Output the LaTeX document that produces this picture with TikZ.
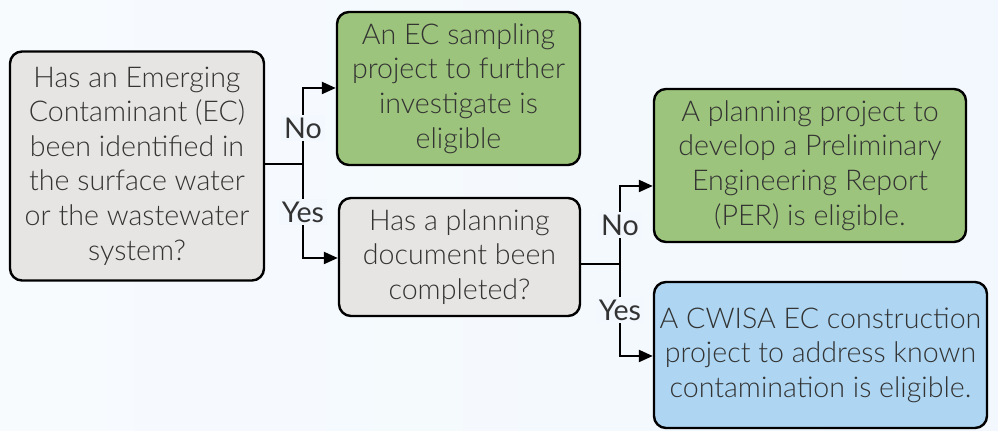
\documentclass[tikz,border=0pt]{standalone}
\usepackage{fontspec}
\setmainfont{Lato}[UprightFont=* Light]
\newfontfamily\answerfont{Lato}
\usetikzlibrary{arrows.meta}
\definecolor{bgblue}{HTML}{F2F8FD}
\definecolor{askgray}{HTML}{E7E5E3}
\definecolor{okgreen}{HTML}{9DC47C}
\definecolor{buildblue}{HTML}{AED6F2}
\definecolor{txt}{HTML}{333333}
\tikzset{
    box/.style={draw=black, line width=1.2pt, rounded corners=6pt, align=center,
        text=txt, font=\fontsize{14.3}{17.3}\selectfont, inner sep=0pt},
    question/.style={box, fill=askgray},
    outcome/.style={box, fill=okgreen},
    build/.style={box, fill=buildblue},
    link/.style={line width=1.1pt, -{Triangle[length=7pt,width=6pt]}},
    answer/.style={fill=bgblue, text=txt, inner sep=1.5pt, font=\answerfont\fontsize{14.3}{17.3}\selectfont}
}
\begin{document}
\begin{tikzpicture}[x=0.5pt,y=-0.5pt]
        \shade[left color=bgblue!60!white, right color=bgblue] (0,0) rectangle (998,431);
        \useasboundingbox (0,0) rectangle (998,431);

        \node[question, minimum width=127pt, minimum height=114.5pt] (found) at (137,166)
            {Has an Emerging\\Contaminant (EC)\\been identified in\\the surface water\\or the wastewater\\system?};
        \node[outcome, minimum width=121.5pt, minimum height=76.5pt] (sample) at (458.5,88.5)
            {An EC sampling\\project to further\\investigate is\\eligible};
        \node[question, minimum width=120.5pt, minimum height=59pt] (planned) at (459.5,257)
            {Has a planning\\document been\\completed?};
        \node[outcome, minimum width=156pt, minimum height=76.5pt] (per) at (810,165.5)
            {A planning project to\\develop a Preliminary\\Engineering Report\\(PER) is eligible.};
        \node[build, minimum width=166.5pt, minimum height=73pt] (construct) at (820.5,355)
            {A CWISA EC construction\\project to address known\\contamination is eligible.};

        % first split
        \coordinate (splitA) at (303,164);
        \draw[line width=1.1pt] (found.east |- splitA) -- (splitA);
        \draw[link] (splitA) |- (sample.west |- 0,88);
        \draw[link] (splitA) |- (planned.west |- 0,258);
        \node[answer] (noA) at (303,128) {No};
        \node[answer] (yesA) at (303,212) {Yes};

        % second split
        \coordinate (splitB) at (620,264);
        \draw[line width=1.1pt] (planned.east |- splitB) -- (splitB);
        \draw[link] (splitB) |- (per.west |- 0,186);
        \draw[link] (splitB) |- (construct.west |- 0,356);
        \node[answer] (noB) at (620,225) {No};
        \node[answer] (yesB) at (620,310) {Yes};
    \end{tikzpicture}
\end{document}
